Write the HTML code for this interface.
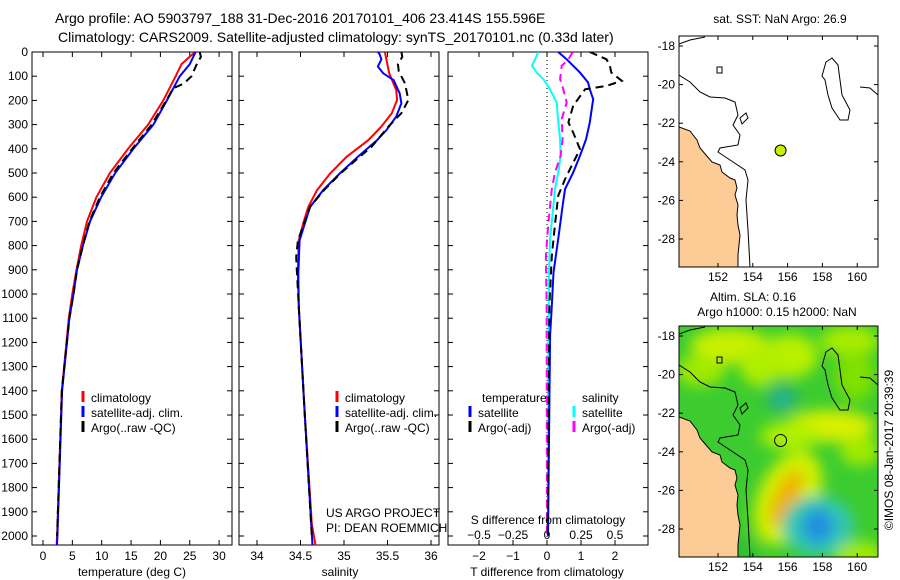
<!DOCTYPE html>
<html><head><meta charset="utf-8"><style>
body{margin:0;background:#fff;}
svg{display:block;font-family:"Liberation Sans",sans-serif;}
text{font-size:12px;fill:#000;}
</style></head><body>
<svg id="fig" width="900" height="580" viewBox="0 0 900 580">
<defs>
<clipPath id="c1"><rect x="32" y="52" width="200" height="493"/></clipPath>
<clipPath id="c2"><rect x="239" y="52" width="200" height="493"/></clipPath>
<clipPath id="c3"><rect x="448" y="52" width="200" height="493"/></clipPath>
<clipPath id="m1"><rect x="679" y="36" width="199" height="231"/></clipPath>
<clipPath id="m2"><rect x="679" y="326" width="199" height="231"/></clipPath>
<filter id="blur"><feGaussianBlur stdDeviation="7"/></filter>
</defs>
<text x="55" y="23" style="font-size:14px">Argo profile: AO 5903797_188 31-Dec-2016 20170101_406 23.414S 155.596E</text>
<text x="58" y="42" style="font-size:14px">Climatology: CARS2009. Satellite-adjusted climatology: synTS_20170101.nc (0.33d later)</text>
<g id="g"></g>
</svg>
<script>
// ---- Panel 1: temperature ----
const tClimDepth=[0,50,100,200,300,400,500,600,700,800,900,1000,1100,1400,2000,2054];
const tClimVal=[25.9,23.6,22.6,20.5,17.9,14.5,11.4,9.1,7.5,6.5,5.7,5.0,4.4,3.2,2.4,2.3];
const tSatDepth=[0,50,100,200,300,400,500,600,700,800,900,1000,1100,1400,2000,2054];
const tSatVal=[26.0,25.0,23.3,21.1,18.8,15.4,12.3,9.9,8.0,6.8,5.8,5.2,4.5,3.25,2.45,2.35];
const tArgoDepth=[0,20,50,100,130,150,200,300,400,500,600,700,800,900,1000,1100,1400,2000];
const tArgoVal=[26.7,26.9,26.2,25.3,24.0,22.2,21.0,18.5,15.2,12.0,9.7,7.9,6.8,5.8,5.2,4.5,3.2,2.4];
// ---- Panel 2: salinity ----
const sClimDepth=[0,88,157,198,253,308,364,433,502,571,640,709,778,847,916,1054,1500,1950,2054];
const sClimVal=[35.47,35.52,35.60,35.61,35.55,35.43,35.28,35.03,34.84,34.69,34.59,34.53,34.48,34.475,34.47,34.48,34.55,34.63,34.68];
const sSatDepth=[0,10,30,60,88,116,171,212,267,322,364,433,502,571,640,709,778,916,1054,1500,2054];
const sSatVal=[35.39,35.41,35.43,35.39,35.45,35.57,35.64,35.66,35.60,35.49,35.38,35.16,34.95,34.76,34.61,34.55,34.49,34.475,34.48,34.55,34.64];
const sArgoDepth=[0,20,50,80,129,198,253,308,391,433,502,571,640,709,778,847,916,1054,1500,2000];
const sArgoVal=[35.66,35.67,35.62,35.63,35.70,35.74,35.66,35.51,35.32,35.18,34.96,34.77,34.61,34.54,34.47,34.45,34.46,34.48,34.55,34.63];
// ---- Panel 3: differences ----
const dTSatDepth=[0,30,57,85,126,154,195,222,291,360,429,498,567,636,773,911,1049,1172,2000];
const dTSatVal=[0.33,0.58,0.77,0.97,1.21,1.26,1.36,1.33,1.26,1.15,0.97,0.77,0.53,0.46,0.33,0.19,0.14,0.09,0.03];
const dTArgoDepth=[0,30,57,85,119,140,154,222,291,333,402,457,526,594,705,842,1049,2000];
const dTArgoVal=[1.26,1.75,1.85,1.89,2.2,1.75,1.12,0.77,0.63,0.77,0.97,0.77,0.53,0.33,0.24,0.14,0.07,0.02];
const dSSatDepth=[0,30,57,85,112,154,209,291,360,429,498,567,636,773,911,1172,2000];
const dSSatVal=[-0.064,-0.088,-0.11,-0.076,-0.027,0.022,0.071,0.083,0.096,0.1,0.083,0.059,0.047,0.022,0.015,0.01,0.007];
const dSArgoDepth=[0,30,57,112,154,209,277,360,429,498,567,705,842,1049,2000];
const dSArgoVal=[0.19,0.157,0.108,0.096,0.12,0.145,0.108,0.115,0.1,0.059,0.035,0.01,-0.008,-0.003,0.0];
// ---- tick labels ----
const depthTicks=[0,100,200,300,400,500,600,700,800,900,1000,1100,1200,1300,1400,1500,1600,1700,1800,1900,2000];
const tTicks=[0,5,10,15,20,25,30];
const sTicks=[34,34.5,35,35.5,36];
const dTTicks=[-2,-1,0,1,2];
const dSTicks=[-0.5,-0.25,0,0.25,0.5];
const latTicks=[-18,-20,-22,-24,-26,-28];
const lonTicks=[152,154,156,158,160];
const argoLon=155.596, argoLat=-23.414;

const NS="http://www.w3.org/2000/svg";
const G=document.getElementById('g');
function el(tag,attrs,parent){const e=document.createElementNS(NS,tag);for(const k in attrs)e.setAttribute(k,attrs[k]);(parent||G).appendChild(e);return e;}
const yD=d=>52+d*0.242;
const xT=v=>43+v*5.87;
const xS=v=>257+(v-34)*87;
const xDT=v=>547+v*34;
const xDS=v=>547+v*136;

function line(ds,vs,xf,color,clip,dash,name){
  const pts=ds.map((d,i)=>xf(vs[i]).toFixed(1)+','+yD(d).toFixed(1)).join(' ');
  const p=el('polyline',{points:pts,fill:'none',stroke:color,'stroke-width':2,'clip-path':'url(#'+clip+')'});
  if(dash)p.setAttribute('stroke-dasharray',dash);
  
  
}
function box(x,name){
  const r=el('rect',{x:x,y:52,width:200,height:493,fill:'none',stroke:'#000','stroke-width':1});
  
  
  depthTicks.forEach(d=>{el('line',{x1:x,x2:x+5,y1:yD(d),y2:yD(d),stroke:'#000'});el('line',{x1:x+200,x2:x+195,y1:yD(d),y2:yD(d),stroke:'#000'});});
}
function xticks(ticks,xf,labels,ly,name,top){
  ticks.forEach(v=>{const x=xf(v);
    el('line',{x1:x,x2:x,y1:545,y2:540,stroke:'#000'});
    if(top)el('line',{x1:x,x2:x,y1:52,y2:57,stroke:'#000'});
    const t=el('text',{x:x,y:ly,'text-anchor':'middle'});t.textContent=String(v).replace('-','\u2212');
    
    
  });
}
function txt(x,y,s,name,anchor,size){const t=el('text',{x:x,y:y});if(anchor)t.setAttribute('text-anchor',anchor);if(size)t.style.fontSize=size+'px';t.textContent=s;
  
  return t;}
function leg(x,y,color,s,name){el('rect',{x:x-1.5,y:y-6,width:3,height:11,fill:color});txt(x+8,y+5,s,name);}

// Panel 1
box(32,'temperature-panel');
depthTicks.forEach(d=>txt(28,yD(d)+4,String(d),'depth-tick-label','end'));
xticks(tTicks,xT,null,560,'temperature-tick-label',true);
line(tClimDepth,tClimVal,xT,'#f00','c1',null,'temp-climatology-line');
line(tSatDepth,tSatVal,xT,'#00f','c1',null,'temp-satellite-line');
line(tArgoDepth,tArgoVal,xT,'#000','c1','8,5','temp-argo-line');
txt(132,576,'temperature (deg C)','temperature-axis-title','middle');
leg(83,397,'#f00','climatology','legend-climatology');
leg(83,412,'#00f','satellite-adj. clim.','legend-satellite');
leg(83,427,'#000','Argo(..raw -QC)','legend-argo');

// Panel 2
box(239,'salinity-panel');
xticks(sTicks,xS,null,560,'salinity-tick-label',true);
line(sClimDepth,sClimVal,xS,'#f00','c2',null,'sal-climatology-line');
line(sSatDepth,sSatVal,xS,'#00f','c2',null,'sal-satellite-line');
line(sArgoDepth,sArgoVal,xS,'#000','c2','8,5','sal-argo-line');
txt(340,576,'salinity','salinity-axis-title','middle');
leg(337,397,'#f00','climatology','legend2-climatology');
leg(337,412,'#00f','satellite-adj. clim.','legend2-satellite');
leg(337,427,'#000','Argo(..raw -QC)','legend2-argo');
txt(326,517,'US ARGO PROJECT','project-label');
txt(326,532,'PI: DEAN ROEMMICH','pi-label');

// Panel 3
box(448,'difference-panel');
el('line',{x1:547,x2:547,y1:52,y2:545,stroke:'#000','stroke-dasharray':'1,3'});
xticks(dTTicks,xDT,null,560,'t-diff-tick-label',true);
dSTicks.forEach(v=>{txt(xDS(v),539,String(v).replace('-','\u2212'),'s-diff-tick-label','middle');});
line(dSSatDepth,dSSatVal,xDS,'#0ff','c3',null,'s-diff-satellite-line');
line(dSArgoDepth,dSArgoVal,xDS,'#f0f','c3','8,5','s-diff-argo-line');
line(dTSatDepth,dTSatVal,xDT,'#00f','c3',null,'t-diff-satellite-line');
line(dTArgoDepth,dTArgoVal,xDT,'#000','c3','8,5','t-diff-argo-line');
txt(547,576,'T difference from climatology','t-diff-axis-title','middle');
txt(548,524,'S difference from climatology','s-diff-axis-title','middle');
txt(482,402,'temperature','legend3-temperature-header');
txt(582,402,'salinity','legend3-salinity-header');
leg(470,412,'#00f','satellite','legend3-t-satellite');
leg(470,427,'#000','Argo(-adj)','legend3-t-argo');
leg(574,412,'#0ff','satellite','legend3-s-satellite');
leg(574,427,'#f0f','Argo(-adj)','legend3-s-argo');

// Maps
const mx=lon=>718+(lon-152)*17.4;
const coast=[[679,127],[690,131],[697,140],[700,148],[706,155],[712,162],[720,165],[722,172],[730,178],[735,180],[737,188],[735,195],[738,205],[737,215],[738,225],[740,235],[739,245],[738,255],[738,267],[679,267]];
const iso=[[679,75],[690,82],[700,92],[710,97],[725,98],[735,102],[738,115],[733,125],[740,135],[738,145],[720,148],[718,152],[730,160],[745,170],[748,180],[746,200],[748,230],[750,267]];
const loop=[[826,62],[832,58],[838,65],[840,80],[842,95],[850,110],[848,120],[840,120],[832,108],[828,95],[825,80],[822,76]];
function mapPanel(top,clip,name,sla){
  const my=lat=>top+10+(-18-lat)*19.3;
  const sh=top-36;
  const g=el('g',{'clip-path':'url(#'+clip+')'});
  
  
  el('rect',{x:679,y:top,width:199,height:231,fill:sla?'#3ccc30':'#fff'},g);
  if(sla){
    const fg=el('g',{filter:'url(#blur)'},g);
    const blobs=[[730,20,40,18,0,'#c8f000'],[790,30,28,22,0,'#b8f000'],[850,15,30,15,0,'#a8ec00'],[700,45,25,15,0,'#a0ea00'],
      [760,40,20,20,0,'#b0ee00'],[855,50,20,25,0,'#80e000'],
      [782,72,16,14,0,'#22b070'],[782,74,7,6,0,'#30b8b0'],[830,100,45,16,0,'#d8f000'],[790,110,30,14,0,'#b0f000'],
      [860,125,20,15,0,'#a0ea00'],[788,172,30,50,25,'#d0f000'],[786,172,12,30,25,'#f0b000'],[818,200,36,30,0,'#30c8b0'],[818,200,16,18,0,'#2090e0'],
      [860,230,25,15,0,'#a0ea00'],[740,230,20,20,0,'#30c030']];
    blobs.forEach(b=>el('ellipse',{cx:b[0],cy:top+b[1],rx:b[2],ry:b[3],fill:b[5],transform:'rotate('+b[4]+' '+b[0]+' '+(top+b[1])+')'},fg));
  }
  el('polygon',{points:coast.map(p=>p[0]+','+(p[1]+sh)).join(' '),fill:'#fccb96',stroke:'#000','stroke-width':1},g);
  el('polyline',{points:iso.map(p=>p[0]+','+(p[1]+sh)).join(' '),fill:'none',stroke:'#000'},g);
  el('polygon',{points:loop.map(p=>p[0]+','+(p[1]+sh)).join(' '),fill:'none',stroke:'#000'},g);
  el('polyline',{points:[[679,44],[690,40],[705,37]].map(p=>p[0]+','+(p[1]+sh)).join(' '),fill:'none',stroke:'#000'},g);
  el('polyline',{points:[[860,87],[870,88],[878,95]].map(p=>p[0]+','+(p[1]+sh)).join(' '),fill:'none',stroke:'#000'},g);
  el('polygon',{points:[[740,118],[746,113],[748,118],[742,124]].map(p=>p[0]+','+(p[1]+sh)).join(' '),fill:'none',stroke:'#000'},g);
  el('rect',{x:717,y:top+31,width:5,height:6,fill:'none',stroke:'#000'},g);
  const mk=el('circle',{cx:mx(argoLon),cy:my(argoLat),r:sla?6:5.5,fill:sla?'none':'#c8f000',stroke:'#000'},g);
  
  
  el('rect',{x:679,y:top,width:199,height:231,fill:'none',stroke:'#000'});
  latTicks.forEach(l=>{const y=my(l);el('line',{x1:679,x2:683,y1:y,y2:y,stroke:'#000'});el('line',{x1:878,x2:874,y1:y,y2:y,stroke:'#000'});
    txt(675,y+4,'-'+Math.abs(l),'latitude-tick-label','end');});
  lonTicks.forEach(l=>{const x=mx(l);el('line',{x1:x,x2:x,y1:top,y2:top+4,stroke:'#000'});el('line',{x1:x,x2:x,y1:top+231,y2:top+227,stroke:'#000'});
    txt(x,top+245,String(l),'longitude-tick-label','middle');});
}
mapPanel(36,'m1','sst-map',false);
mapPanel(326,'m2','sla-map',true);
txt(780,23,'sat. SST: NaN Argo: 26.9','sst-map-title','middle');
txt(753,301,'Altim. SLA: 0.16','sla-title','middle');
txt(777,316,'Argo h1000: 0.15 h2000: NaN','argo-height-title','middle');
const st=txt(893,450,'\u00A9IMOS 08-Jan-2017 20:39:39','timestamp-label','middle');
st.setAttribute('transform','rotate(-90 893 450)');
</script>
</body></html>
